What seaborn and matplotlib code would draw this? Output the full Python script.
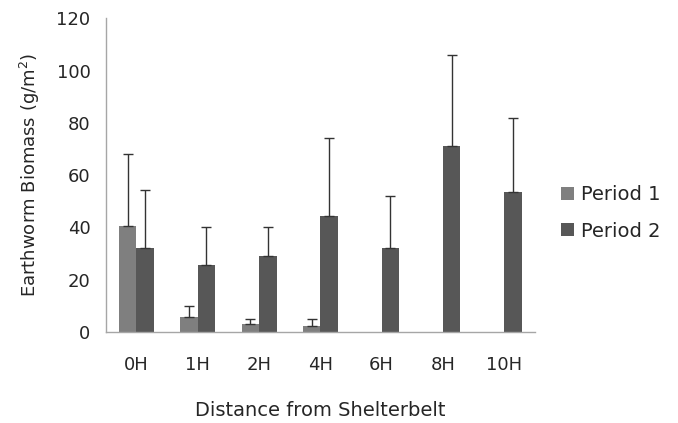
import numpy as np
import pandas as pd
import matplotlib
matplotlib.use("Agg")
import matplotlib.pyplot as plt
import seaborn as sns

distances = ["0H", "1H", "2H", "4H", "6H", "8H", "10H"]
period1 = [40.6, 5.8, 2.9, 2.5, np.nan, np.nan, np.nan]
period1_err = [27.4, 4.1, 2.1, 2.5, np.nan, np.nan, np.nan]
period2 = [32.2, 25.5, 29.2, 44.4, 32.2, 71.0, 53.6]
period2_err = [22.2, 14.7, 11.0, 29.7, 19.8, 35.1, 28.4]

sns.set_style("white")
plt.rcParams['font.family'] = ['DejaVu Sans']

df = pd.DataFrame({
    "Distance": distances * 2,
    "Biomass": period1 + period2,
    "Err": period1_err + period2_err,
    "Period": ["Period 1"] * 7 + ["Period 2"] * 7,
})

colors = {"Period 1": "#7f7f7f", "Period 2": "#575757"}

fig = plt.figure(figsize=(6.78, 4.23), dpi=100)
ax = fig.add_axes([0.156, 0.215, 0.633, 0.742])

sns.barplot(data=df, x="Distance", y="Biomass", hue="Period", order=distances,
            palette=colors, width=0.57, saturation=1, errorbar=None,
            edgecolor="none", ax=ax)

# upper-only error bars on each bar
for container, per in zip(ax.containers, ["Period 1", "Period 2"]):
    sub = df[df["Period"] == per]
    for bar, val, err in zip(container, sub["Biomass"], sub["Err"]):
        if np.isnan(val):
            continue
        xc = bar.get_x() + bar.get_width() / 2
        ax.errorbar(xc, val, yerr=[[0], [err]], fmt="none", ecolor="#333333",
                    elinewidth=1, capsize=3.5, capthick=1)

ax.set_ylim(0, 120)
ax.set_yticks(range(0, 121, 20))
ax.set_xlim(-0.5, 6.5)

# ticks at category boundaries, labels centered
ax.set_xticks(np.arange(-0.5, 7, 1))
ax.set_xticklabels([])
ax.set_xticks(range(7), minor=True)
ax.set_xticklabels(distances, minor=True)
ax.tick_params(axis="x", which="major", length=6, width=1, color="#a6a6a6", direction="out")
ax.tick_params(axis="x", which="minor", length=0, pad=17, labelsize=13, labelcolor="#262626")
ax.tick_params(axis="y", length=5, width=1, color="#a6a6a6", direction="out",
               labelsize=13, labelcolor="#262626", pad=6)

sns.despine(ax=ax)
for s in ["left", "bottom"]:
    ax.spines[s].set_color("#a6a6a6")
    ax.spines[s].set_linewidth(1)

ax.set_xlabel("Distance from Shelterbelt", fontsize=14, color="#262626", labelpad=20)
ax.set_ylabel("Earthworm Biomass (g/m$^2$)", fontsize=13, color="#262626", labelpad=10)

handles, labels = ax.get_legend_handles_labels()
ax.legend(handles, labels, loc="center left", bbox_to_anchor=(1.02, 0.38),
          frameon=False, fontsize=14, handlelength=0.65, handleheight=0.65,
          handletextpad=0.4, labelspacing=0.9, labelcolor="#262626")

fig.savefig("out.png", dpi=100)
